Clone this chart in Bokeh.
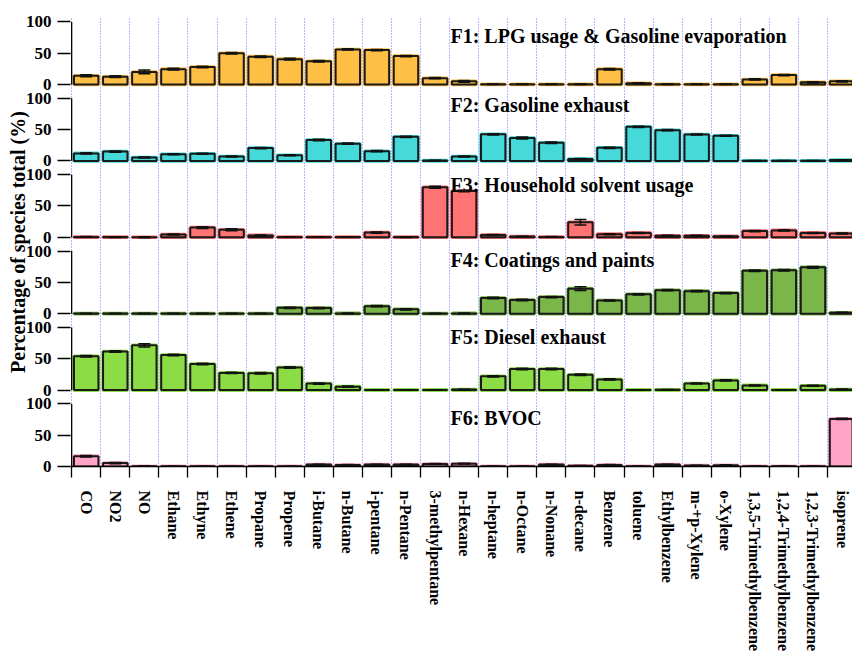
from bokeh.plotting import figure
from bokeh.models import ColumnDataSource, FixedTicker, Whisker, TeeHead
from bokeh.core.properties import value
from bokeh.embed import file_html
from bokeh.resources import INLINE

# Species along the x axis
species = ["CO", "NO2", "NO", "Ethane", "Ethyne", "Ethene", "Propane", "Propene",
           "i-Butane", "n-Butane", "i-pentane", "n-Pentane", "3-methylpentane",
           "n-Hexane", "n-heptane", "n-Octane", "n-Nonane", "n-decane", "Benzene",
           "toluene", "Ethylbenzene", "m-+p-Xylene", "o-Xylene",
           "1,3,5-Trimethylbenzene", "1,2,4-Trimethylbenzene",
           "1,2,3-Trimethylbenzene", "isoprene"]

# Factor profiles: percentage of species total (%)
f1_lpg = [14, 12.5, 20, 24.5, 28, 50, 44.5, 40.5, 37, 56, 55, 45.5, 10, 5,
          0.4, 0.3, 0.4, 0.3, 24.5, 2, 0.4, 0.3, 0.3, 8, 15, 3.5, 5]
f2_gasoline = [12, 15, 5.5, 10.5, 11.5, 7, 20.5, 9, 33.5, 27.5, 15.5, 38.5, 0.5, 7,
               42.5, 36.5, 29, 3, 21, 54.5, 49, 42, 40, 0.3, 0.3, 0.3, 1.5]
f3_solvent = [0.5, 0.3, 0.2, 4.5, 15.5, 12, 3, 0.4, 0.4, 0.4, 7.5, 0.3, 80, 74,
              3.5, 1.2, 0.5, 24, 5, 7, 2.5, 2.5, 1.5, 10, 11, 7, 6]
f4_coatings = [0.3, 0.3, 0.3, 0.3, 0.3, 0.3, 0.3, 9.5, 9, 0.5, 12, 7, 0.3, 0.5,
               25, 22, 26.5, 40, 21, 31, 37.5, 36, 33, 68.5, 69.5, 74, 1.5]
f5_diesel = [54, 61.5, 71.5, 56, 41.5, 27.5, 27, 36, 10.5, 5.5, 0.3, 0.3, 0.3, 0.8,
             22, 33.5, 33.5, 24.5, 17, 0.3, 0.4, 10.5, 15.5, 7.5, 0.3, 7, 1]
f6_bvoc = [16.5, 5.5, 0.3, 0.2, 0.2, 0.2, 0.2, 0.2, 3, 2.5, 3, 3, 4, 4.5,
           0.3, 0.5, 3, 1, 2.5, 0.3, 3, 1.5, 2, 0.3, 0.3, 0.5, 76]

# Uncertainties (%)
e1 = [1.5, 1.5, 3.0, 1.5, 1.2, 1.2, 1.2, 1.5, 1.2, 1.0, 1.0, 1.0, 1.0, 1.2, 0.5, 0.4,
      0.5, 0.4, 1.2, 0.8, 0.4, 0.4, 0.4, 1.0, 1.0, 1.0, 1.0]
e2 = [1.0, 1.0, 0.8, 0.8, 0.8, 0.8, 1.0, 0.8, 1.2, 1.0, 1.0, 1.0, 0.4, 0.8, 1.0, 1.5,
      1.2, 0.8, 1.0, 1.0, 1.0, 0.8, 0.8, 0.3, 0.3, 0.3, 0.5]
e3 = [0.6, 0.5, 0.8, 0.8, 1.5, 1.5, 0.8, 0.5, 0.5, 0.5, 1.0, 0.5, 1.5, 1.2, 0.8, 0.6,
      0.6, 4.5, 0.8, 0.8, 0.8, 0.8, 0.6, 1.0, 1.0, 0.8, 0.8]
e4 = [0.4, 0.4, 0.4, 0.4, 0.4, 0.4, 0.4, 1.0, 1.0, 0.5, 1.0, 1.0, 0.4, 0.5, 1.2, 1.2,
      1.0, 3.0, 0.8, 1.0, 1.0, 1.0, 1.0, 1.2, 1.2, 1.5, 0.8]
e5 = [1.2, 1.2, 2.5, 1.2, 1.2, 1.0, 1.2, 1.2, 1.0, 1.0, 0.4, 0.4, 0.4, 0.6, 1.0, 1.2,
      1.2, 1.2, 1.0, 0.4, 0.5, 0.8, 1.0, 0.8, 0.4, 0.8, 0.6]
e6 = [1.2, 1.0, 1.0, 0.3, 0.3, 0.3, 0.3, 0.3, 0.6, 0.6, 0.6, 0.6, 0.6, 0.6, 0.3, 0.4,
      0.6, 0.5, 0.6, 0.3, 0.6, 0.5, 0.6, 0.3, 0.3, 0.4, 1.0]

factor_names = ["F1: LPG usage & Gasoline evaporation", "F2: Gasoline exhaust",
                "F3: Household solvent usage", "F4: Coatings and paints",
                "F5: Diesel exhaust", "F6: BVOC"]
profiles = [f1_lpg, f2_gasoline, f3_solvent, f4_coatings, f5_diesel, f6_bvoc]
errors = [e1, e2, e3, e4, e5, e6]
colors = ["#FFBF45", "#45D9D9", "#FF7373", "#7AB648", "#8CDD45", "#FFA3C7"]
title_levels = [77, 89, 84, 86, 85, 78]   # baseline of each panel caption (panel %)

STEP = 122            # vertical distance between stacked panels, in % units
n = len(species)
n_panels = len(profiles)
offsets = [(n_panels - 1 - i) * STEP for i in range(n_panels)]
xs = list(range(n))
bounds = [i - 0.5 for i in range(n + 1)]

FONT = "Liberation Serif"

p = figure(width=852, height=654, x_range=(-0.54, 26.36),
           y_range=(0, (n_panels - 1) * STEP + 107),
           output_backend="svg", toolbar_location=None,
           min_border_left=70, min_border_right=0, min_border_top=17,
           min_border_bottom=182)
p.outline_line_color = None
p.background_fill_color = "white"

# dotted separators between species
p.ygrid.visible = False
p.xgrid.ticker = FixedTicker(ticks=bounds)
p.xgrid.grid_line_color = "#6c6cff"
p.xgrid.grid_line_dash = "1 2"
p.xgrid.grid_line_width = 1

for prof, err, col, off, name, lvl in zip(profiles, errors, colors, offsets,
                                          factor_names, title_levels):
    tops = [off + v for v in prof]
    src = ColumnDataSource(dict(
        x=xs,
        bottom=[off] * n,
        top=tops,
        upper=[t + e for t, e in zip(tops, err)],
        lower=[t - e for t, e in zip(tops, err)],
    ))
    p.vbar(x="x", width=0.84, bottom="bottom", top="top", source=src,
           fill_color=col, line_color=col, line_width=3.6)
    p.vbar(x="x", width=0.84, bottom="bottom", top="top", source=src,
           fill_color=col, line_color="#1a1a1a", line_width=2)
    p.add_layout(Whisker(source=src, base="x", upper="upper", lower="lower",
                         dimension="height", level="overlay",
                         line_color="#111111", line_width=1.5,
                         upper_head=TeeHead(size=12, line_color="#111111", line_width=1.5),
                         lower_head=TeeHead(size=12, line_color="#111111", line_width=1.5)))
    p.text(x=[12.53], y=[off + lvl], text=[name], text_font=value(FONT),
           text_font_style="bold", text_font_size="20px", text_color="black",
           text_align="left", text_baseline="alphabetic")

# per-panel y axis lines (0 to 100)
p.segment(x0=[-0.5] * n_panels, y0=offsets, x1=[-0.5] * n_panels,
          y1=[o + 100 for o in offsets], line_color="black", line_width=1.3)

# y axis: 0 / 50 / 100 repeated for each panel
yticks = []
ylabels = {}
for off in offsets:
    for v in (0, 50, 100):
        yticks.append(off + v)
        ylabels[off + v] = str(v)
yax = p.yaxis[0]
yax.ticker = FixedTicker(ticks=yticks)
yax.major_label_overrides = ylabels
yax.axis_line_color = None
yax.major_tick_out = 13
yax.major_tick_in = 0
yax.major_tick_line_color = "black"
yax.major_tick_line_width = 1.3
yax.major_label_standoff = 6
yax.major_label_text_font = FONT
yax.major_label_text_font_style = "bold"
yax.major_label_text_font_size = "17px"
yax.major_label_text_color = "black"
yax.axis_label = "Percentage of species total (%)"
yax.axis_label_text_font = FONT
yax.axis_label_text_font_style = "bold"
yax.axis_label_text_font_size = "20px"
yax.axis_label_text_color = "black"
yax.axis_label_standoff = -6

# x axis: labels at species centres, tick marks at boundaries
xax = p.xaxis[0]
xax.ticker = FixedTicker(ticks=xs, minor_ticks=bounds)
xax.major_label_overrides = {i: s for i, s in enumerate(species)}
xax.major_label_orientation = "vertical"
xax.major_tick_out = 0
xax.major_tick_in = 0
xax.major_tick_line_color = None
xax.minor_tick_out = 11
xax.minor_tick_in = 0
xax.minor_tick_line_color = "black"
xax.minor_tick_line_width = 1.3
xax.axis_line_color = "black"
xax.axis_line_width = 1.3
xax.major_label_standoff = 13
xax.major_label_text_font = FONT
xax.major_label_text_font_style = "bold"
xax.major_label_text_font_size = "16px"
xax.major_label_text_color = "black"

open("out.html", "w").write(file_html(p, INLINE))
